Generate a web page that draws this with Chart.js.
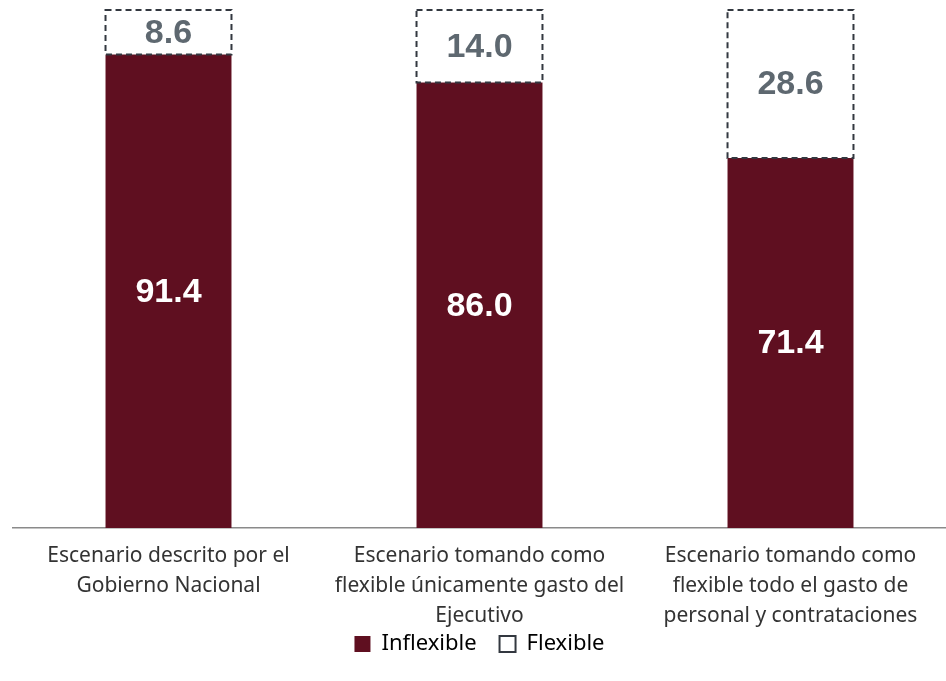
<!DOCTYPE html>
<html>
<head>
<meta charset="utf-8">
<script src="https://cdn.jsdelivr.net/npm/chart.js@4.4.0/dist/chart.umd.min.js"></script>
<style>
  html, body { margin: 0; padding: 0; background: #fff; }
  #wrap { width: 946px; height: 681px; position: relative; }
</style>
</head>
<body>
<div id="wrap"><canvas id="chart"></canvas></div>
<script>
const categories = [
    ['Escenario descrito por el', 'Gobierno Nacional'],
    ['Escenario tomando como', 'flexible únicamente gasto del', 'Ejecutivo'],
    ['Escenario tomando como', 'flexible todo el gasto de', 'personal y contrataciones']
];
const inflexible = [91.4, 86.0, 71.4];
const flexible = [8.6, 14.0, 28.6];

const barColor = '#5F0F20';
const dashColor = '#333840';

// dibuja el borde punteado de "Flexible" y las etiquetas de valores
const labelsPlugin = {
    id: 'valueLabels',
    afterDatasetsDraw(chart) {
        const ctx = chart.ctx;
        ctx.save();
        const flexMeta = chart.getDatasetMeta(1);
        flexMeta.data.forEach(bar => {
            const p = bar.getProps(['x', 'y', 'base', 'width'], true);
            const left = p.x - p.width / 2;
            ctx.setLineDash([6, 4]);
            ctx.lineWidth = 2;
            ctx.strokeStyle = dashColor;
            ctx.strokeRect(left, p.y, p.width, p.base - p.y);
        });
        ctx.setLineDash([]);
        ctx.font = 'bold 34px "Liberation Sans", Arial, sans-serif';
        ctx.textAlign = 'center';
        ctx.textBaseline = 'middle';
        chart.data.datasets.forEach((ds, i) => {
            const meta = chart.getDatasetMeta(i);
            meta.data.forEach((bar, j) => {
                const p = bar.getProps(['x', 'y', 'base'], true);
                ctx.fillStyle = i === 0 ? '#ffffff' : '#5E6870';
                ctx.fillText(ds.data[j].toFixed(1), p.x, (p.y + p.base) / 2 + 1);
            });
        });
        ctx.restore();
    }
};

const ctx = document.getElementById('chart').getContext('2d');
new Chart(ctx, {
    type: 'bar',
    data: {
        labels: categories,
        datasets: [
            {
                label: 'Inflexible',
                data: inflexible,
                backgroundColor: barColor,
                borderWidth: 0,
                barPercentage: 0.405,
                categoryPercentage: 1
            },
            {
                label: 'Flexible',
                data: flexible,
                backgroundColor: '#ffffff',
                borderWidth: 0,
                barPercentage: 0.405,
                categoryPercentage: 1
            }
        ]
    },
    options: {
        responsive: true,
        maintainAspectRatio: false,
        animation: false,
        layout: { padding: { top: 10, left: 13, right: 0, bottom: 16 } },
        scales: {
            x: {
                stacked: true,
                grid: { display: false },
                border: { display: true, color: '#8a8a8a', width: 1.5 },
                ticks: {
                    color: '#333',
                    padding: 5,
                    font: { family: '"Noto Sans", sans-serif', size: 21, lineHeight: 1.43 },
                    maxRotation: 0
                },
                afterFit(scale) { scale.height -= 3; }
            },
            y: {
                stacked: true,
                display: false,
                min: 0,
                max: 100
            }
        },
        plugins: {
            tooltip: { enabled: false },
            legend: {
                position: 'bottom',
                labels: {
                    color: '#333',
                    font: { family: '"Noto Sans", sans-serif', size: 22 },
                    boxWidth: 16,
                    boxHeight: 16,
                    padding: 0,
                    generateLabels() {
                        return [
                            { text: 'Inflexible    ', fillStyle: barColor, strokeStyle: barColor, lineWidth: 0, datasetIndex: 0 },
                            { text: 'Flexible', fillStyle: '#ffffff', strokeStyle: dashColor, lineWidth: 2, datasetIndex: 1 }
                        ];
                    }
                }
            }
        }
    },
    plugins: [labelsPlugin]
});
</script>
</body>
</html>
